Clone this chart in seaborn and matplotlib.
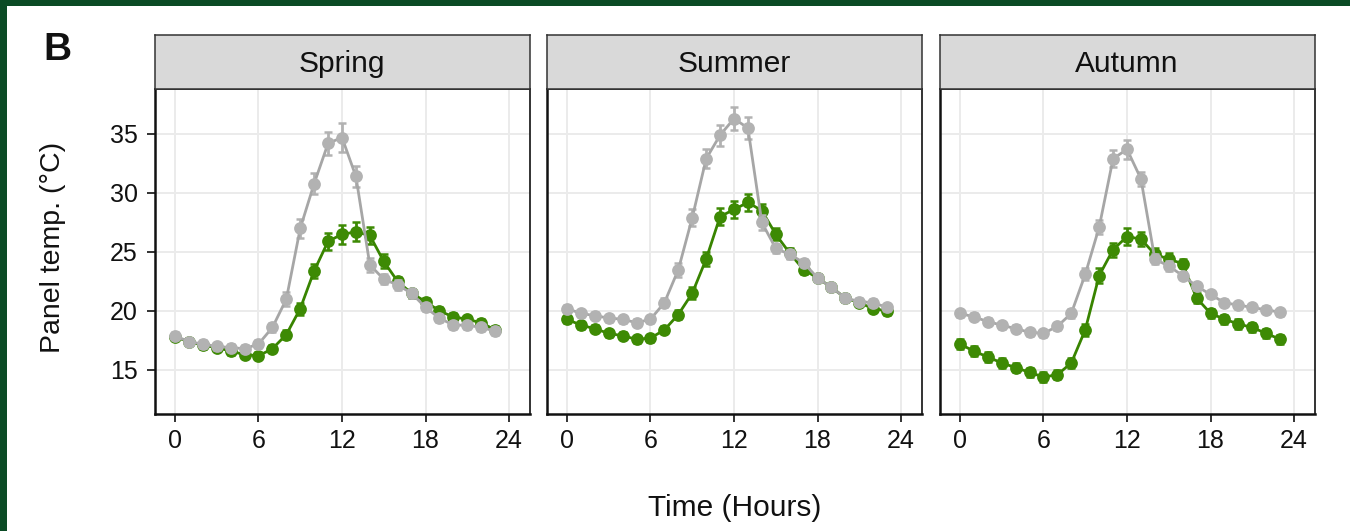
import numpy as np
import pandas as pd
import matplotlib
matplotlib.use("Agg")
import matplotlib.pyplot as plt
from matplotlib.patches import Rectangle
import seaborn as sns

# ---- data: hourly mean panel temperature (°C) and standard error ----
hours = list(range(24))
seasons = ["Spring", "Summer", "Autumn"]
treatments = ["Vegetated roof", "Gravel roof"]

spring_vegetated = [17.8, 17.4, 17.1, 16.9, 16.6, 16.3, 16.2, 16.8, 18.0, 20.2, 23.4, 25.9,
                    26.5, 26.7, 26.4, 24.2, 22.5, 21.5, 20.8, 20.0, 19.5, 19.3, 19.0, 18.4]
spring_gravel = [17.9, 17.4, 17.2, 17.0, 16.9, 16.8, 17.2, 18.6, 21.0, 27.0, 30.8, 34.2,
                 34.7, 31.4, 23.9, 22.7, 22.2, 21.5, 20.3, 19.4, 18.8, 18.8, 18.6, 18.3]
summer_vegetated = [19.3, 18.8, 18.5, 18.1, 17.9, 17.6, 17.7, 18.4, 19.7, 21.5, 24.4, 28.0,
                    28.6, 29.2, 28.5, 26.5, 24.9, 23.5, 22.8, 22.0, 21.1, 20.7, 20.2, 20.0]
summer_gravel = [20.2, 19.8, 19.6, 19.4, 19.3, 19.0, 19.3, 20.7, 23.5, 27.9, 32.9, 34.9,
                 36.3, 35.5, 27.5, 25.3, 24.8, 24.1, 22.8, 22.0, 21.1, 20.8, 20.7, 20.3]
autumn_vegetated = [17.2, 16.6, 16.1, 15.6, 15.2, 14.8, 14.4, 14.6, 15.6, 18.4, 23.0, 25.2,
                    26.3, 26.1, 24.8, 24.4, 24.0, 21.1, 19.8, 19.3, 18.9, 18.6, 18.1, 17.6]
autumn_gravel = [19.8, 19.5, 19.1, 18.8, 18.5, 18.2, 18.1, 18.7, 19.8, 23.1, 27.1, 32.9,
                 33.7, 31.2, 24.4, 23.8, 23.0, 22.1, 21.4, 20.7, 20.5, 20.3, 20.1, 19.9]

spring_vegetated_se = [0.3, 0.3, 0.3, 0.3, 0.3, 0.3, 0.3, 0.3, 0.4, 0.5, 0.6, 0.7,
                       0.8, 0.8, 0.7, 0.6, 0.4, 0.4, 0.3, 0.3, 0.3, 0.3, 0.3, 0.3]
spring_gravel_se = [0.3, 0.3, 0.3, 0.3, 0.3, 0.3, 0.3, 0.4, 0.6, 0.8, 0.9, 1.0,
                    1.2, 0.9, 0.6, 0.4, 0.4, 0.4, 0.3, 0.3, 0.3, 0.3, 0.3, 0.3]
summer_vegetated_se = [0.3, 0.3, 0.3, 0.3, 0.3, 0.3, 0.3, 0.3, 0.4, 0.5, 0.6, 0.7,
                       0.7, 0.7, 0.6, 0.5, 0.4, 0.4, 0.3, 0.3, 0.3, 0.3, 0.3, 0.3]
summer_gravel_se = [0.3, 0.3, 0.3, 0.3, 0.3, 0.3, 0.3, 0.4, 0.6, 0.7, 0.8, 0.9,
                    1.0, 0.9, 0.6, 0.4, 0.4, 0.3, 0.3, 0.3, 0.3, 0.3, 0.3, 0.3]
autumn_vegetated_se = [0.4, 0.4, 0.4, 0.4, 0.4, 0.4, 0.4, 0.4, 0.4, 0.5, 0.6, 0.6,
                       0.7, 0.6, 0.5, 0.5, 0.4, 0.4, 0.4, 0.4, 0.4, 0.4, 0.4, 0.4]
autumn_gravel_se = [0.3, 0.3, 0.3, 0.3, 0.3, 0.3, 0.3, 0.3, 0.4, 0.5, 0.6, 0.7,
                    0.8, 0.6, 0.4, 0.4, 0.3, 0.3, 0.3, 0.3, 0.3, 0.3, 0.3, 0.3]

x_ticks = [0, 6, 12, 18, 24]
y_ticks = [15, 20, 25, 30, 35]

series = {
    ("Spring", "Vegetated roof"): (spring_vegetated, spring_vegetated_se),
    ("Spring", "Gravel roof"): (spring_gravel, spring_gravel_se),
    ("Summer", "Vegetated roof"): (summer_vegetated, summer_vegetated_se),
    ("Summer", "Gravel roof"): (summer_gravel, summer_gravel_se),
    ("Autumn", "Vegetated roof"): (autumn_vegetated, autumn_vegetated_se),
    ("Autumn", "Gravel roof"): (autumn_gravel, autumn_gravel_se),
}
rows = []
for (season, treat), (vals, errs) in series.items():
    for h, v, e in zip(hours, vals, errs):
        rows.append({"season": season, "treatment": treat, "hour": h, "temp": v, "se": e})
df = pd.DataFrame(rows)

# ---- styling ----
sns.set_theme(style="white")
plt.rcParams["font.family"] = ["Liberation Sans", "DejaVu Sans"]

marker_colors = {"Vegetated roof": "#3d8a04", "Gravel roof": "#b2b2b2"}
line_colors = {"Vegetated roof": "#388400", "Gravel roof": "#a6a6a6"}

W, H = 1350, 531
fig = plt.figure(figsize=(W / 100, H / 100), dpi=100)
fig.patch.set_facecolor("white")


def fx(px):
    return px / W


def fy(py):
    return 1 - py / H


panel_lefts = [154.5, 546.5, 939.5]
panel_w = 375
ax_top, ax_bot = 89, 414
strip_top = 35

for i, season in enumerate(seasons):
    left = panel_lefts[i]
    ax = fig.add_axes([fx(left), fy(ax_bot), panel_w / W, (ax_bot - ax_top) / H])
    sub = df[df["season"] == season]
    for k, treat in enumerate(treatments):
        d = sub[sub["treatment"] == treat]
        ax.errorbar(d["hour"], d["temp"], yerr=d["se"], fmt="none",
                    ecolor=marker_colors[treat], elinewidth=2.0, capsize=2.8,
                    capthick=1.8, zorder=3 + 2 * k)
        sns.lineplot(data=d, x="hour", y="temp", ax=ax, color=line_colors[treat],
                     linewidth=2.0, marker="o", markersize=9.2,
                     markerfacecolor=marker_colors[treat],
                     markeredgecolor=marker_colors[treat], markeredgewidth=0,
                     legend=False, zorder=4 + 2 * k)

    ax.set_xlim(-1.47, 25.47)
    ax.set_ylim(11.27, 38.81)
    ax.set_xticks(x_ticks)
    ax.set_yticks(y_ticks)
    ax.set_xlabel("")
    ax.set_ylabel("")
    ax.grid(True, color="#ebebeb", linewidth=1.4)
    ax.set_axisbelow(True)
    ax.tick_params(axis="x", bottom=True, length=6, width=1.4, color="#333333",
                   labelsize=18, labelcolor="#111111", pad=5)
    if i == 0:
        ax.tick_params(axis="y", left=True, length=6, width=1.4, color="#333333",
                       labelsize=18, labelcolor="#111111", pad=6)
    else:
        ax.tick_params(axis="y", left=False, labelleft=False)
    for name, sp in ax.spines.items():
        sp.set_visible(True)
        sp.set_color("#111111")
        sp.set_linewidth(1.8 if name in ("left", "bottom") else 1.2)

    # facet strip
    sax = fig.add_axes([fx(left), fy(ax_top), panel_w / W, (ax_top - strip_top) / H])
    sax.set_facecolor("#d9d9d9")
    sax.set_xticks([])
    sax.set_yticks([])
    for sp in sax.spines.values():
        sp.set_visible(True)
        sp.set_color("#333333")
        sp.set_linewidth(1.1)
    sax.text(0.5, 0.47, season, ha="center", va="center", fontsize=21.5,
             color="#111111", transform=sax.transAxes)

# axis titles and panel letter
fig.text(fx(735), fy(508), "Time (Hours)", ha="center", va="center",
         fontsize=21.5, color="#111111")
fig.text(fx(53), fy(247), "Panel temp. (°C)", ha="center", va="center",
         rotation=90, fontsize=20.5, color="#111111")
fig.text(fx(57), fy(50), "B", ha="center", va="center", fontsize=28,
         fontweight="bold", color="#111111")

# frame bands
fig.patches.append(Rectangle((0, fy(6)), 1, 6 / H, transform=fig.transFigure,
                             facecolor="#0b4b25", edgecolor="none", zorder=10))
fig.patches.append(Rectangle((0, 0), 7 / W, 1, transform=fig.transFigure,
                             facecolor="#0b4b25", edgecolor="none", zorder=10))

fig.savefig("out.png", dpi=100)
